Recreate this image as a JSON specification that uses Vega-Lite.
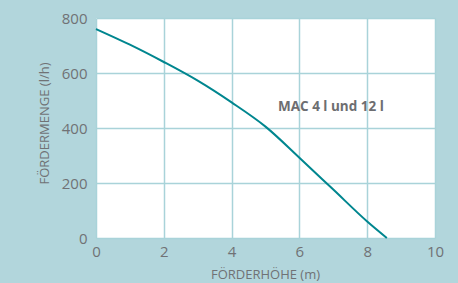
{
  "$schema": "https://vega.github.io/schema/vega-lite/v6.json",
  "autosize": "none",
  "width": 339,
  "height": 220,
  "padding": {"left": 96, "top": 18, "right": 23, "bottom": 45},
  "background": "#b2d6dc",
  "view": {"fill": "white", "stroke": null},
  "config": {
    "font": "Open Sans",
    "axis": {
      "grid": true,
      "gridColor": "#a9d3d9",
      "gridWidth": 1.5,
      "domain": false,
      "ticks": false,
      "labelFlush": false,
      "labelColor": "#707275",
      "labelFontSize": 15,
      "titleColor": "#707275",
      "titleFontSize": 13,
      "titleFontWeight": "normal"
    }
  },
  "layer": [
    {
      "data": {"values": [
        {"h": 0, "q": 760},
        {"h": 1, "q": 703},
        {"h": 2, "q": 640},
        {"h": 3, "q": 572},
        {"h": 4, "q": 493},
        {"h": 5, "q": 405},
        {"h": 6, "q": 292},
        {"h": 7, "q": 176},
        {"h": 8, "q": 60},
        {"h": 8.58, "q": 0}
      ]},
      "mark": {"type": "line", "color": "#00868f", "strokeWidth": 2, "interpolate": "monotone"},
      "encoding": {
        "x": {"field": "h", "type": "quantitative", "scale": {"domain": [0, 10]},
          "axis": {"values": [0, 2, 4, 6, 8, 10], "title": "FÖRDERHÖHE (m)", "labelPadding": 6, "titlePadding": 9, "titleX": 169}},
        "y": {"field": "q", "type": "quantitative", "scale": {"domain": [0, 800]},
          "axis": {"values": [0, 200, 400, 600, 800], "title": "FÖRDERMENGE (l/h)", "labelPadding": 9, "titlePadding": 10, "titleY": 105}}
      }
    },
    {
      "data": {"values": [{"h": 6.93, "q": 478, "t": "MAC 4 l und 12 l"}]},
      "mark": {"type": "text", "font": "Open Sans", "fontWeight": "bold", "fontSize": 13.5, "color": "#6d6e71"},
      "encoding": {
        "x": {"field": "h", "type": "quantitative"},
        "y": {"field": "q", "type": "quantitative"},
        "text": {"field": "t"}
      }
    }
  ]
}
